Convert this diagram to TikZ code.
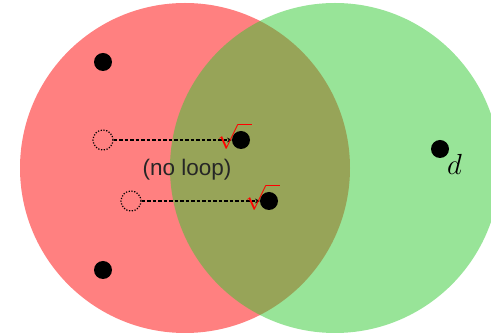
\documentclass[tikz,border=0pt]{standalone}
\usepackage{fontspec}
\newfontfamily\labelfont{Liberation Sans}
\definecolor{vennred}{RGB}{255,128,128}
\definecolor{venngreen}{RGB}{49,201,49}

\begin{document}
\begin{tikzpicture}[x=1pt,y=-1pt,>=stealth,
    point/.style={circle,fill=black,minimum size=18pt,inner sep=0pt},
    ghost/.style={circle,draw=black,dash pattern=on 1.2pt off 1.6pt,line width=1.2pt,
        minimum size=20pt,inner sep=0pt},
    move/.style={->,dash pattern=on 3.5pt off 2pt,line width=1.1pt},
    tick/.style={red,inner sep=0pt,anchor=north west,font=\fontsize{27}{31}\selectfont}
]
    \useasboundingbox (0,0) rectangle (491,336);

    % the two sets
    \fill[vennred] (185,168) circle[radius=165];
    \fill[venngreen,fill opacity=0.5] (335,168) circle[radius=165];

    % points
    \node[point] (p1) at (103,62) {};
    \node[point] (p2) at (103,270) {};
    \node[point] (p3) at (241,140) {};
    \node[point] (p4) at (269,201) {};
    \node[point] (d) at (440,149) {};
    \node[anchor=south west,inner sep=0pt] (dlabel) at (447,175)
        {\scalebox{1.4}{\fontsize{20}{24}\selectfont$d$}};

    % moved points
    \node[ghost] (g3) at (103,140) {};
    \node[ghost] (g4) at (131,201) {};
    \draw[move] (g3) -- (p3);
    \draw[move] (g4) -- (p4);

    \node[tick] (t3) at (217,123) {$\sqrt{\phantom{n}}$};
    \node[tick] (t4) at (245,184) {$\sqrt{\phantom{n}}$};

    \node[font=\labelfont\fontsize{22.5}{26}\selectfont,text=black!85] (noloop)
        at (187,170) {(no loop)};
\end{tikzpicture}
\end{document}
